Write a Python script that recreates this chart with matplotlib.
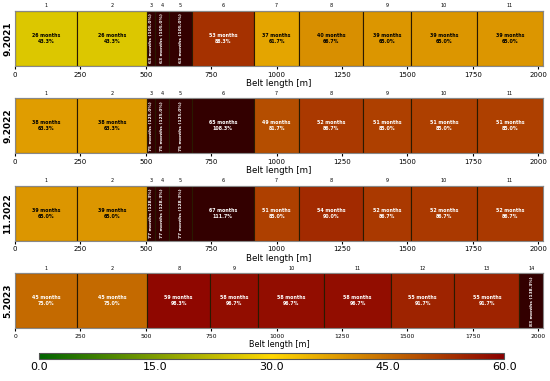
import numpy as np
import matplotlib
matplotlib.use('Agg')
import matplotlib.pyplot as plt
from matplotlib.colors import LinearSegmentedColormap, Normalize
from matplotlib.cm import ScalarMappable

# inspection dates
dates = ['9.2021', '9.2022', '11.2022', '5.2023']

# segment boundaries along the belt [m]
bounds_a = [0, 238, 505, 535, 590, 675, 914, 1087, 1331, 1515, 1765, 2020]
bounds_b = [0, 238, 505, 747, 930, 1183, 1436, 1680, 1928, 2020]

seg_ids_a = [1, 2, 3, 4, 5, 6, 7, 8, 9, 10, 11]
seg_ids_b = [1, 2, 8, 9, 10, 11, 12, 13, 14]

# remaining life in months for each segment
months_2021_09 = [26, 26, 63, 63, 63, 53, 37, 40, 39, 39, 39]
months_2022_09 = [38, 38, 75, 75, 75, 65, 49, 52, 51, 51, 51]
months_2022_11 = [39, 39, 77, 77, 77, 67, 51, 54, 52, 52, 52]
months_2023_05 = [45, 45, 59, 58, 58, 58, 55, 55, 83]

panels = [
    (bounds_a, seg_ids_a, months_2021_09),
    (bounds_a, seg_ids_a, months_2022_09),
    (bounds_a, seg_ids_a, months_2022_11),
    (bounds_b, seg_ids_b, months_2023_05),
]

ref_months = 60
cmap = LinearSegmentedColormap.from_list('life', ['#006400', '#ffd700', '#8b0000'])
cmap.set_over('#330000')
norm = Normalize(0, 60)

fig = plt.figure(figsize=(5.5, 3.81), dpi=100)
bottoms = [0.8268, 0.5976, 0.3682, 0.1383]
h = 0.1444

for i, (bounds, ids, months) in enumerate(panels):
    ax = fig.add_axes([0.0273, bottoms[i], 0.9606, h])
    left = np.array(bounds[:-1])
    width = np.diff(bounds)
    colors = [cmap(norm(m)) for m in months]
    ax.barh(0, width, left=left, height=1, color=colors, edgecolor='#2a1a00', linewidth=0.8)
    for l, w, m in zip(left, width, months):
        pct = m / ref_months * 100
        cx = l + w / 2
        if w < 120:
            ax.text(cx, 0, f'{m} months ({pct:.1f}%)', rotation=90, ha='center', va='center',
                    fontsize=3.2, fontweight='bold', color='white')
        else:
            tc = 'white' if m >= 45 else 'black'
            ax.text(cx, 0, f'{m} months\n{pct:.1f}%', ha='center', va='center',
                    fontsize=3.4, fontweight='bold', color=tc, linespacing=1.2)
    ax.set_xlim(0, bounds[-1])
    ax.set_ylim(-0.5, 0.5)
    ax.set_yticks([])
    ax.set_xticks(np.arange(0, 2001, 250))
    for s in ax.spines.values():
        s.set_color('#888888')
    ax.set_ylabel(dates[i], fontsize=6.5, fontweight='bold', labelpad=2)
    top = ax.secondary_xaxis('top')
    top.set_xticks(left + width / 2)
    top.set_xticklabels([str(s) for s in ids])
    top.tick_params(length=0, labelsize=3.5, pad=2)
    for s in top.spines.values():
        s.set_color('#888888')
    if i < 3:
        ax.tick_params(axis='x', labelsize=5, length=2.5, pad=1.5)
        ax.set_xlabel('Belt length [m]', fontsize=6.2, labelpad=1)
    else:
        ax.tick_params(axis='x', labelsize=4.3, length=2.5, pad=1.5)
        ax.set_xlabel('Belt length [m]', fontsize=5.8, labelpad=1)

cax = fig.add_axes([0.0715, 0.057, 0.845, 0.0157])
sm = ScalarMappable(norm=norm, cmap=cmap)
cb = fig.colorbar(sm, cax=cax, orientation='horizontal', ticks=[0, 15, 30, 45, 60])
cb.ax.set_xticklabels(['0.0', '15.0', '30.0', '45.0', '60.0'])
cb.ax.tick_params(labelsize=8, length=0, pad=2)
cb.outline.set_edgecolor('#555555')

fig.savefig('out.png', dpi=100)
